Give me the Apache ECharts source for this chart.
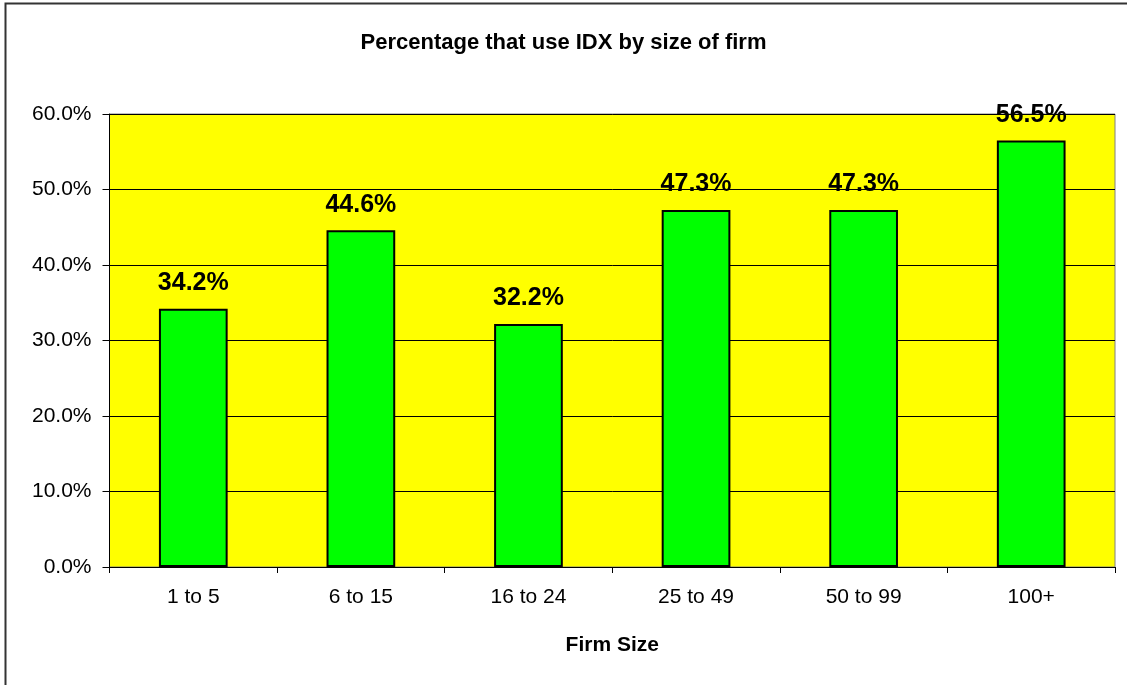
<!DOCTYPE html>
<html>
<head>
<meta charset="utf-8">
<script src="https://cdn.jsdelivr.net/npm/echarts@6/dist/echarts.min.js"></script>
<style>
  html, body { margin: 0; padding: 0; background: #fff; }
  #chart { width: 1127px; height: 685px; }
</style>
</head>
<body>
<div id="chart"></div>
<script>
// Firm-size groups and share of firms using IDX (percent)
const categories = ['1 to 5', '6 to 15', '16 to 24', '25 to 49', '50 to 99', '100+'];
const usage = [34.2, 44.6, 32.2, 47.3, 47.3, 56.5];
const yTicks = [0, 10, 20, 30, 40, 50, 60];

const chart = echarts.init(document.getElementById('chart'));
const FONT = '"Liberation Sans", Arial, sans-serif';

chart.setOption({
  animation: false,
  backgroundColor: '#ffffff',
  title: {
    text: 'Percentage that use IDX by size of firm',
    left: 'center',
    top: 27,
    textStyle: { fontFamily: FONT, fontWeight: 'bold', fontSize: 22, color: '#000' }
  },
  graphic: [{
    type: 'rect',
    shape: { x: 5.5, y: 3.5, width: 1300, height: 900 },
    style: { fill: 'none', stroke: '#333', lineWidth: 2 },
    z: 100
  }],
  grid: {
    left: 109.5, right: 12, top: 114, bottom: 118,
    show: true, backgroundColor: '#ffff00', borderColor: '#808080', borderWidth: 1
  },
  xAxis: {
    type: 'category',
    data: categories,
    name: 'Firm Size',
    nameLocation: 'middle',
    nameGap: 68,
    nameTextStyle: { fontFamily: FONT, fontWeight: 'bold', fontSize: 21, color: '#000' },
    axisLine: { lineStyle: { color: '#000', width: 1 } },
    axisTick: { show: true, alignWithLabel: false, length: 6, lineStyle: { color: '#000' } },
    axisLabel: { fontFamily: FONT, fontSize: 21, color: '#000', margin: 20 }
  },
  yAxis: {
    type: 'value',
    min: yTicks[0],
    max: yTicks[yTicks.length - 1],
    interval: 10,
    axisLine: { show: true, lineStyle: { color: '#000', width: 1 } },
    axisTick: { show: true, length: 7, lineStyle: { color: '#000' } },
    axisLabel: {
      fontFamily: FONT, fontSize: 21, color: '#000', margin: 18,
      formatter: v => v.toFixed(1) + '%'
    },
    splitLine: { show: true, lineStyle: { color: '#000', width: 1 } }
  },
  series: [{
    type: 'bar',
    data: usage,
    barWidth: '41%',
    itemStyle: { color: '#00ff00', borderColor: '#000', borderWidth: 2 },
    label: {
      show: true,
      position: 'top',
      distance: 13,
      fontFamily: FONT,
      fontWeight: 'bold',
      fontSize: 25,
      color: '#000',
      formatter: p => p.value.toFixed(1) + '%'
    }
  }]
});
</script>
</body>
</html>
